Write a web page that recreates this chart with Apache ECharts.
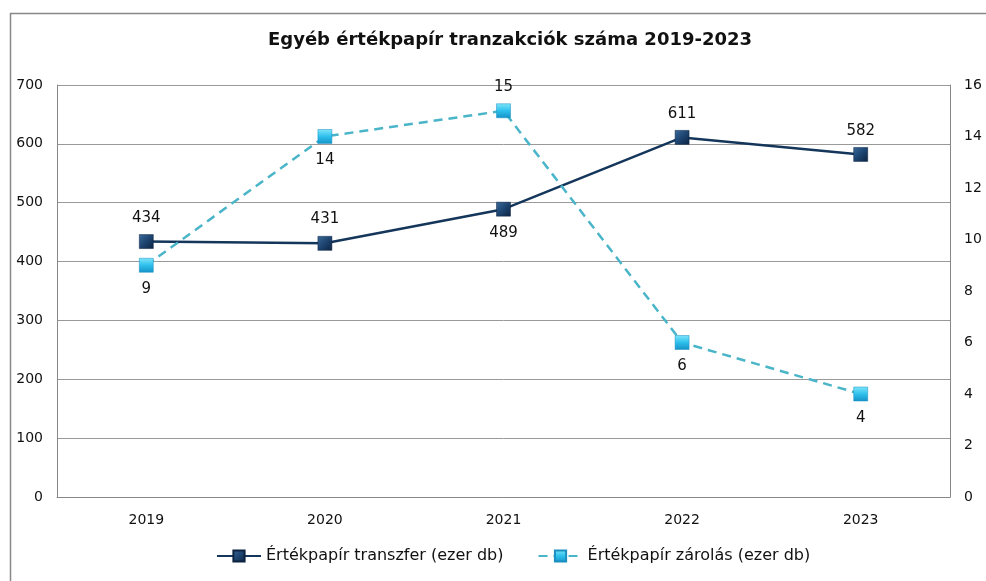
<!DOCTYPE html>
<html>
<head>
<meta charset="utf-8">
<script src="https://cdn.jsdelivr.net/npm/echarts@6/dist/echarts.min.js"></script>
<style>
html,body{margin:0;padding:0;background:#fff;}
#chart{width:986px;height:581px;}
</style>
</head>
<body>
<div id="chart"></div>
<script>
const categories = ['2019', '2020', '2021', '2022', '2023'];
const transferValues = [434, 431, 489, 611, 582];
const lockValues = [9, 14, 15, 6, 4];
const transferName = 'Értékpapír transzfer (ezer db)';
const lockName = 'Értékpapír zárolás (ezer db)';
const titleText = 'Egyéb értékpapír tranzakciók száma 2019-2023';

const transferLabelPos = ['top', 'top', 'bottom', 'top', 'top'];
const lockLabelPos = ['bottom', 'bottom', 'top', 'bottom', 'bottom'];

const FONT = 'DejaVu Sans';
const chart = echarts.init(document.getElementById('chart'));

const transferGrad = new echarts.graphic.LinearGradient(0, 0, 1, 1, [
  {offset: 0, color: '#3a6a9a'}, {offset: 0.5, color: '#1d4470'}, {offset: 1, color: '#0c2340'}
]);
const lockGrad = new echarts.graphic.LinearGradient(0, 0, 0, 1, [
  {offset: 0, color: '#7fe6fb'}, {offset: 0.5, color: '#2ec0ec'}, {offset: 1, color: '#1592c8'}
]);

chart.setOption({
  backgroundColor: '#fff',
  animation: false,
  textStyle: {fontFamily: FONT},
  title: {
    text: titleText, left: 263, top: 26,
    textStyle: {fontFamily: FONT, fontSize: 18, fontWeight: 'bold', color: '#111'}
  },
  graphic: [{
    type: 'rect', left: 8, top: 11, shape: {width: 1000, height: 600},
    style: {fill: 'none', stroke: '#888', lineWidth: 1.5}, silent: true
  }],
  legend: {
    bottom: 12, left: 211, itemGap: 34, itemWidth: 44, itemHeight: 14,
    textStyle: {fontFamily: FONT, fontSize: 16, color: '#111'},
    data: [transferName, lockName]
  },
  grid: {left: 57, right: 36, top: 85, bottom: 84},
  xAxis: {
    type: 'category', data: categories, boundaryGap: true,
    axisLine: {lineStyle: {color: '#888'}},
    axisTick: {show: false},
    axisLabel: {fontFamily: FONT, fontSize: 14, color: '#111', margin: 16}
  },
  yAxis: [{
    type: 'value', min: 0, max: 700, interval: 100,
    axisLine: {show: true, lineStyle: {color: '#888'}},
    axisTick: {show: false},
    splitLine: {lineStyle: {color: '#999', width: 1}},
    axisLabel: {fontFamily: FONT, fontSize: 14, color: '#111', margin: 14}
  }, {
    type: 'value', min: 0, max: 16, interval: 2,
    axisLine: {show: true, lineStyle: {color: '#888'}},
    axisTick: {show: false},
    splitLine: {show: false},
    axisLabel: {fontFamily: FONT, fontSize: 14, color: '#111', margin: 14}
  }],
  series: [{
    name: transferName, type: 'line', yAxisIndex: 0,
    symbol: 'rect', symbolSize: 14,
    lineStyle: {color: '#14365a', width: 2.5},
    itemStyle: {color: transferGrad, borderColor: '#0c2340', borderWidth: 0.5},
    label: {show: true, fontFamily: FONT, fontSize: 15, color: '#111', distance: 9},
    data: transferValues.map((v, i) => ({value: v, label: {position: transferLabelPos[i]}}))
  }, {
    name: lockName, type: 'line', yAxisIndex: 1,
    symbol: 'rect', symbolSize: 14,
    lineStyle: {color: '#4ab5c8', width: 2.5, type: [9, 6]},
    itemStyle: {color: lockGrad, borderColor: '#1a8fc0', borderWidth: 0.5},
    label: {show: true, fontFamily: FONT, fontSize: 15, color: '#111', distance: 9},
    data: lockValues.map((v, i) => ({value: v, label: {position: lockLabelPos[i]}}))
  }]
});
</script>
</body>
</html>
